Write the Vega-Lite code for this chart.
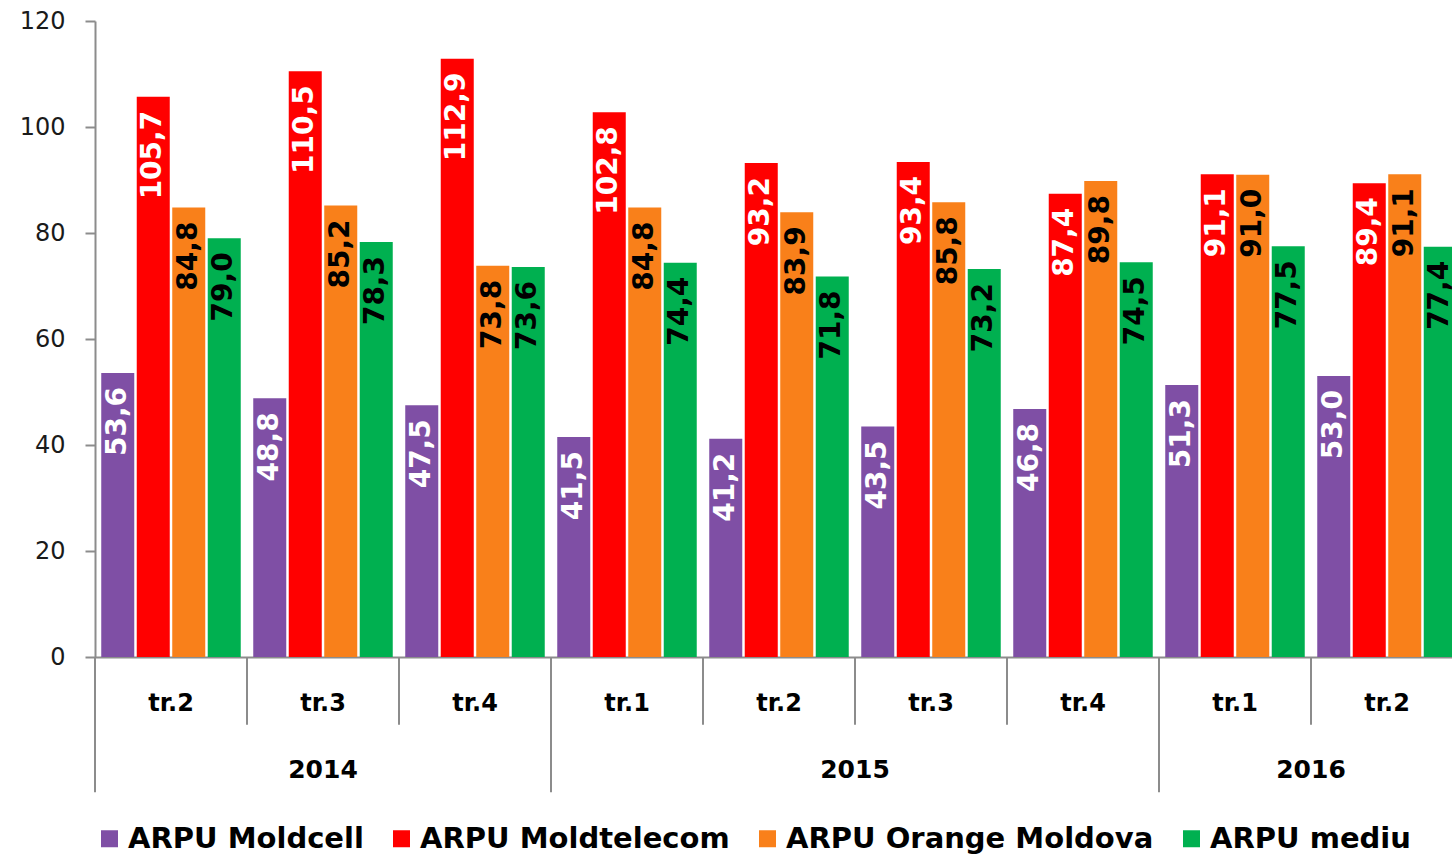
{
  "$schema": "https://vega.github.io/schema/vega-lite/v6.json",
  "width": 1357,
  "height": 636,
  "autosize": {"type": "none"},
  "padding": {"left": 95, "top": 21, "right": 0, "bottom": 203},
  "background": "white",
  "config": {
    "view": {"stroke": null},
    "locale": {"number": {"decimal": ",", "thousands": ".", "grouping": [3], "currency": ["", ""]}}
  },
  "data": {
    "values": [
      {"key": "2014 tr.2", "year": "2014", "quarter": "tr.2", "series": "ARPU Moldcell", "value": 53.6},
      {"key": "2014 tr.2", "year": "2014", "quarter": "tr.2", "series": "ARPU Moldtelecom", "value": 105.7},
      {"key": "2014 tr.2", "year": "2014", "quarter": "tr.2", "series": "ARPU Orange Moldova", "value": 84.8},
      {"key": "2014 tr.2", "year": "2014", "quarter": "tr.2", "series": "ARPU mediu", "value": 79.0},
      {"key": "2014 tr.3", "year": "2014", "quarter": "tr.3", "series": "ARPU Moldcell", "value": 48.8},
      {"key": "2014 tr.3", "year": "2014", "quarter": "tr.3", "series": "ARPU Moldtelecom", "value": 110.5},
      {"key": "2014 tr.3", "year": "2014", "quarter": "tr.3", "series": "ARPU Orange Moldova", "value": 85.2},
      {"key": "2014 tr.3", "year": "2014", "quarter": "tr.3", "series": "ARPU mediu", "value": 78.3},
      {"key": "2014 tr.4", "year": "2014", "quarter": "tr.4", "series": "ARPU Moldcell", "value": 47.5},
      {"key": "2014 tr.4", "year": "2014", "quarter": "tr.4", "series": "ARPU Moldtelecom", "value": 112.9},
      {"key": "2014 tr.4", "year": "2014", "quarter": "tr.4", "series": "ARPU Orange Moldova", "value": 73.8},
      {"key": "2014 tr.4", "year": "2014", "quarter": "tr.4", "series": "ARPU mediu", "value": 73.6},
      {"key": "2015 tr.1", "year": "2015", "quarter": "tr.1", "series": "ARPU Moldcell", "value": 41.5},
      {"key": "2015 tr.1", "year": "2015", "quarter": "tr.1", "series": "ARPU Moldtelecom", "value": 102.8},
      {"key": "2015 tr.1", "year": "2015", "quarter": "tr.1", "series": "ARPU Orange Moldova", "value": 84.8},
      {"key": "2015 tr.1", "year": "2015", "quarter": "tr.1", "series": "ARPU mediu", "value": 74.4},
      {"key": "2015 tr.2", "year": "2015", "quarter": "tr.2", "series": "ARPU Moldcell", "value": 41.2},
      {"key": "2015 tr.2", "year": "2015", "quarter": "tr.2", "series": "ARPU Moldtelecom", "value": 93.2},
      {"key": "2015 tr.2", "year": "2015", "quarter": "tr.2", "series": "ARPU Orange Moldova", "value": 83.9},
      {"key": "2015 tr.2", "year": "2015", "quarter": "tr.2", "series": "ARPU mediu", "value": 71.8},
      {"key": "2015 tr.3", "year": "2015", "quarter": "tr.3", "series": "ARPU Moldcell", "value": 43.5},
      {"key": "2015 tr.3", "year": "2015", "quarter": "tr.3", "series": "ARPU Moldtelecom", "value": 93.4},
      {"key": "2015 tr.3", "year": "2015", "quarter": "tr.3", "series": "ARPU Orange Moldova", "value": 85.8},
      {"key": "2015 tr.3", "year": "2015", "quarter": "tr.3", "series": "ARPU mediu", "value": 73.2},
      {"key": "2015 tr.4", "year": "2015", "quarter": "tr.4", "series": "ARPU Moldcell", "value": 46.8},
      {"key": "2015 tr.4", "year": "2015", "quarter": "tr.4", "series": "ARPU Moldtelecom", "value": 87.4},
      {"key": "2015 tr.4", "year": "2015", "quarter": "tr.4", "series": "ARPU Orange Moldova", "value": 89.8},
      {"key": "2015 tr.4", "year": "2015", "quarter": "tr.4", "series": "ARPU mediu", "value": 74.5},
      {"key": "2016 tr.1", "year": "2016", "quarter": "tr.1", "series": "ARPU Moldcell", "value": 51.3},
      {"key": "2016 tr.1", "year": "2016", "quarter": "tr.1", "series": "ARPU Moldtelecom", "value": 91.1},
      {"key": "2016 tr.1", "year": "2016", "quarter": "tr.1", "series": "ARPU Orange Moldova", "value": 91.0},
      {"key": "2016 tr.1", "year": "2016", "quarter": "tr.1", "series": "ARPU mediu", "value": 77.5},
      {"key": "2016 tr.2", "year": "2016", "quarter": "tr.2", "series": "ARPU Moldcell", "value": 53.0},
      {"key": "2016 tr.2", "year": "2016", "quarter": "tr.2", "series": "ARPU Moldtelecom", "value": 89.4},
      {"key": "2016 tr.2", "year": "2016", "quarter": "tr.2", "series": "ARPU Orange Moldova", "value": 91.1},
      {"key": "2016 tr.2", "year": "2016", "quarter": "tr.2", "series": "ARPU mediu", "value": 77.4}
    ]
  },
  "layer": [
    {
      "mark": {"type": "bar"},
      "encoding": {
        "x": {
          "field": "key", "type": "nominal",
          "scale": {"domain": ["2014 tr.2", "2014 tr.3", "2014 tr.4", "2015 tr.1", "2015 tr.2", "2015 tr.3", "2015 tr.4", "2016 tr.1", "2016 tr.2"], "range": [0, 1368], "paddingInner": 0, "paddingOuter": 0},
          "axis": {"labels": false, "ticks": false, "title": null, "domainColor": "#8c8c8c", "domainWidth": 2}
        },
        "xOffset": {
          "field": "series", "type": "nominal",
          "scale": {"domain": ["ARPU Moldcell", "ARPU Moldtelecom", "ARPU Orange Moldova", "ARPU mediu"], "paddingInner": 0.07, "paddingOuter": 0.176}
        },
        "y": {
          "field": "value", "type": "quantitative",
          "scale": {"domain": [0, 120], "nice": false},
          "axis": {"values": [0, 20, 40, 60, 80, 100, 120], "title": null, "grid": false, "tickSize": 10, "tickColor": "#8c8c8c", "tickWidth": 2, "domainColor": "#8c8c8c", "domainWidth": 2, "labelPadding": 20, "labelFont": "DejaVu Sans", "labelFontSize": 24, "labelColor": "#1a1a1a"}
        },
        "color": {
          "field": "series", "type": "nominal",
          "scale": {"domain": ["ARPU Moldcell", "ARPU Moldtelecom", "ARPU Orange Moldova", "ARPU mediu"], "range": ["#7F4FA5", "#FF0000", "#F9801A", "#00B050"]},
          "legend": {"title": null, "orient": "none", "legendX": 0, "legendY": 803, "direction": "horizontal", "symbolType": "square", "symbolSize": 289, "symbolStrokeWidth": 0, "labelFont": "DejaVu Sans", "labelFontSize": 29, "labelFontWeight": "bold", "labelColor": "#000000", "labelOffset": 4, "columnPadding": 23, "labelLimit": 0}
        }
      }
    },
    {
      "transform": [{"filter": {"field": "series", "oneOf": ["ARPU Moldcell", "ARPU Moldtelecom"]}}],
      "mark": {"type": "text", "angle": 270, "align": "right", "baseline": "middle", "dx": -14, "font": "DejaVu Sans", "fontSize": 28, "fontWeight": "bold", "color": "#ffffff"},
      "encoding": {
        "x": {"field": "key", "type": "nominal"},
        "xOffset": {"field": "series", "type": "nominal"},
        "y": {"field": "value", "type": "quantitative"},
        "text": {"field": "value", "type": "quantitative", "format": ".1f"}
      }
    },
    {
      "transform": [{"filter": {"field": "series", "oneOf": ["ARPU Orange Moldova", "ARPU mediu"]}}],
      "mark": {"type": "text", "angle": 270, "align": "right", "baseline": "middle", "dx": -14, "font": "DejaVu Sans", "fontSize": 28, "fontWeight": "bold", "color": "#000000"},
      "encoding": {
        "x": {"field": "key", "type": "nominal"},
        "xOffset": {"field": "series", "type": "nominal"},
        "y": {"field": "value", "type": "quantitative"},
        "text": {"field": "value", "type": "quantitative", "format": ".1f"}
      }
    },
    {
      "transform": [
        {"filter": {"field": "series", "equal": "ARPU Moldcell"}},
        {"filter": {"not": {"field": "key", "oneOf": ["2014 tr.2", "2015 tr.1", "2016 tr.1"]}}}
      ],
      "mark": {"type": "rule", "color": "#8c8c8c", "strokeWidth": 2},
      "encoding": {
        "x": {"field": "key", "type": "nominal", "bandPosition": 0},
        "y": {"datum": 0},
        "y2": {"datum": -12.8}
      }
    },
    {
      "transform": [
        {"filter": {"field": "series", "equal": "ARPU Moldcell"}},
        {"filter": {"field": "key", "oneOf": ["2014 tr.2", "2015 tr.1", "2016 tr.1"]}}
      ],
      "mark": {"type": "rule", "color": "#8c8c8c", "strokeWidth": 2},
      "encoding": {
        "x": {"field": "key", "type": "nominal", "bandPosition": 0},
        "y": {"datum": 0},
        "y2": {"datum": -25.5}
      }
    },
    {
      "transform": [{"filter": {"field": "series", "equal": "ARPU Moldcell"}}],
      "mark": {"type": "text", "baseline": "middle", "align": "center", "font": "DejaVu Sans", "fontSize": 24, "fontWeight": "bold", "color": "#000000"},
      "encoding": {
        "x": {"field": "key", "type": "nominal"},
        "y": {"datum": -8.9},
        "text": {"field": "quarter", "type": "nominal"}
      }
    },
    {
      "transform": [
        {"filter": {"field": "series", "equal": "ARPU Moldcell"}},
        {"filter": {"field": "key", "equal": "2014 tr.3"}}
      ],
      "mark": {"type": "text", "baseline": "middle", "align": "center", "font": "DejaVu Sans", "fontSize": 25, "fontWeight": "bold", "color": "#000000"},
      "encoding": {
        "x": {"field": "key", "type": "nominal", "bandPosition": 0.5},
        "y": {"datum": -21.4},
        "text": {"field": "year", "type": "nominal"}
      }
    },
    {
      "transform": [
        {"filter": {"field": "series", "equal": "ARPU Moldcell"}},
        {"filter": {"field": "key", "oneOf": ["2015 tr.2", "2016 tr.1"]}}
      ],
      "mark": {"type": "text", "baseline": "middle", "align": "center", "font": "DejaVu Sans", "fontSize": 25, "fontWeight": "bold", "color": "#000000"},
      "encoding": {
        "x": {"field": "key", "type": "nominal", "bandPosition": 1},
        "y": {"datum": -21.4},
        "text": {"field": "year", "type": "nominal"}
      }
    }
  ]
}
